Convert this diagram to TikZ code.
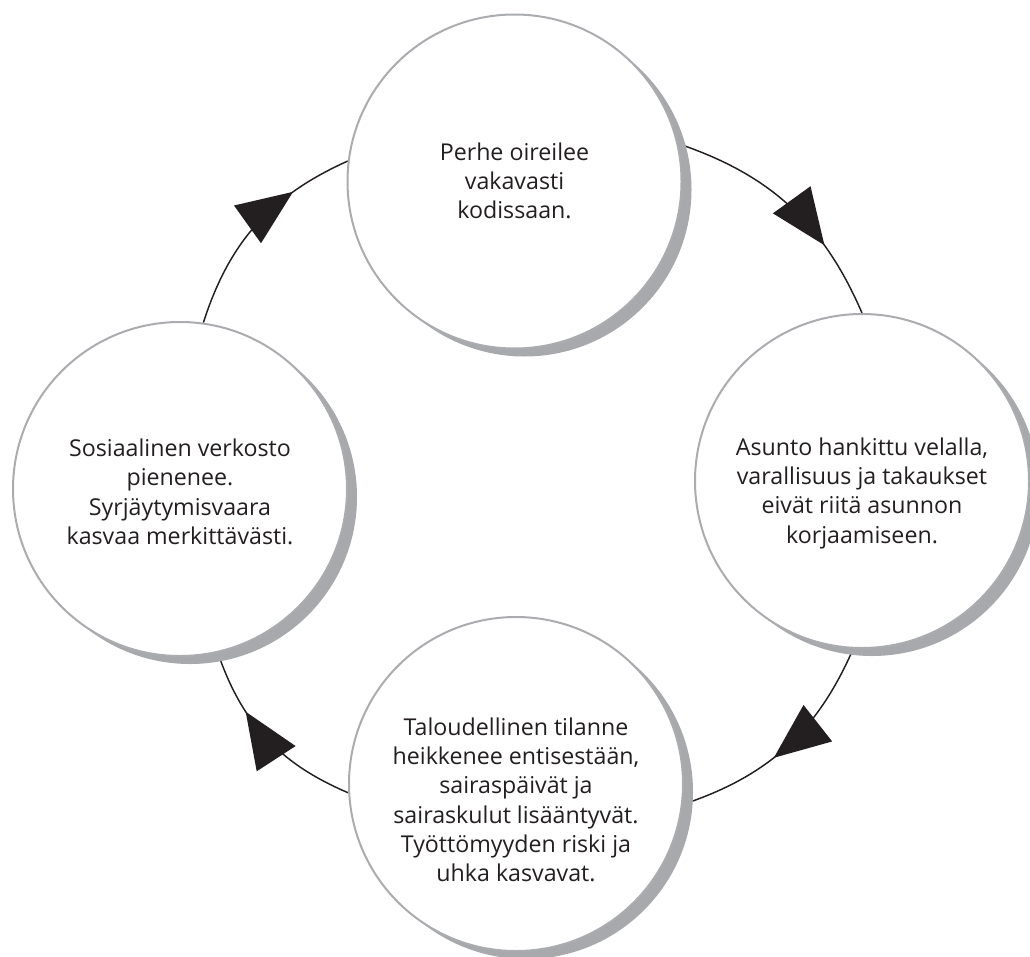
\documentclass[tikz,border=0pt]{standalone}
\usepackage{fontspec}
\setmainfont{Open Sans}
\usetikzlibrary{arrows.meta,decorations.markings,shadows,backgrounds}
\definecolor{ringgray}{RGB}{170,172,175}
\definecolor{shadegray}{RGB}{167,169,172}
\definecolor{ink}{RGB}{35,31,32}
\begin{document}
\begin{tikzpicture}[x=0.75pt,y=-0.75pt,
  cyc/.style={circle, draw=ringgray, line width=1.5pt, fill=white,
    minimum size=250.5pt, inner sep=0pt,
    general shadow={fill=shadegray, shadow xshift=7.5pt, shadow yshift=-6pt}},
  txt/.style={align=center, font=\fontsize{17.4}{22}\selectfont, text=ink, inner sep=0pt},
  flow/.style={color=ink, line width=1.1pt, postaction={decorate},
    decoration={markings, mark=at position #1 with {\arrow{Triangle[length=42pt,width=34.5pt]}}}}
]
\useasboundingbox (0,0) rectangle (1030,956);

\node[cyc] (A) at (514.5,181.5) {};
\node[cyc] (B) at (862,481) {};
\node[cyc] (C) at (516,784) {};
\node[cyc] (D) at (180,489) {};

\node[txt] (At) at (514.5,181) {Perhe oireilee\\vakavasti\\kodissaan.};
\node[txt] (Bt) at (862,493) {Asunto hankittu velalla,\\varallisuus ja takaukset\\eivät riitä asunnon\\korjaamiseen.};
\node[txt] (Ct) at (516,800) {Taloudellinen tilanne\\heikkenee entisestään,\\sairaspäivät ja\\sairaskulut lisääntyvät.\\Työttömyyden riski ja\\uhka kasvavat.};
\node[txt] (Dt) at (180,492) {Sosiaalinen verkosto\\pienenee.\\Syrjäytymisvaara\\kasvaa merkittävästi.};

\begin{scope}[on background layer]
\draw[flow=0.70] (A.13) to[bend left=24] (B.90);
\draw[flow=0.57] (B.-93) to[bend left=24] (C.-7.5);
\draw[flow=0.67] (C.183) to[bend left=24] (D.-77);
\draw[flow=0.72] (D.82.5) to[bend left=24] (A.173.3);
\end{scope}
\end{tikzpicture}
\end{document}
